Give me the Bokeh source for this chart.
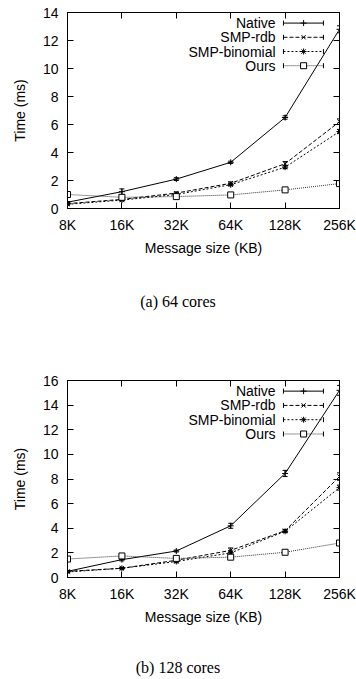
import math
from bokeh.plotting import figure
from bokeh.models import (Range1d, LinearAxis, FixedTicker, Whisker, ColumnDataSource,
                          TeeHead, Div, CustomLabelingPolicy)
from bokeh.layouts import column
from bokeh.embed import file_html
from bokeh.resources import INLINE
from bokeh.core.properties import value

sizes = ["8K", "16K", "32K", "64K", "128K", "256K"]
series_names = ["Native", "SMP-rdb", "SMP-binomial", "Ours"]

# (a) 64 cores, time in ms
native_64 = [0.45, 1.2, 2.1, 3.3, 6.5, 12.8]
rdb_64 = [0.35, 0.65, 1.1, 1.8, 3.2, 6.2]
binom_64 = [0.3, 0.6, 1.0, 1.7, 2.95, 5.5]
ours_64 = [1.0, 0.8, 0.85, 0.97, 1.33, 1.78]
native_64_err = [0.05, 0.2, 0.1, 0.08, 0.12, 0.25]
rdb_64_err = [0.05, 0.05, 0.08, 0.1, 0.15, 0.2]
binom_64_err = [0.05, 0.05, 0.05, 0.08, 0.1, 0.15]
ours_64_err = [0.05, 0.1, 0.05, 0.05, 0.08, 0.1]

# (b) 128 cores, time in ms
native_128 = [0.5, 1.45, 2.15, 4.2, 8.45, 15.2]
rdb_128 = [0.5, 0.75, 1.4, 2.2, 3.8, 8.2]
binom_128 = [0.45, 0.75, 1.3, 2.0, 3.75, 7.3]
ours_128 = [1.5, 1.75, 1.55, 1.65, 2.05, 2.8]
native_128_err = [0.05, 0.1, 0.08, 0.2, 0.25, 0.4]
rdb_128_err = [0.05, 0.05, 0.1, 0.2, 0.1, 0.3]
binom_128_err = [0.05, 0.05, 0.1, 0.15, 0.1, 0.2]
ours_128_err = [0.1, 0.1, 0.1, 0.1, 0.1, 0.1]

y_ticks_64 = [0, 2, 4, 6, 8, 10, 12, 14]
y_ticks_128 = [0, 2, 4, 6, 8, 10, 12, 14, 16]

FONT = "Liberation Sans"
STYLES = [
    dict(dash="solid", marker="cross", color="black"),
    dict(dash="4 2", marker="x", color="black"),
    dict(dash="2 2", marker="asterisk", color="black"),
    dict(dash="1 1", marker="square", color="#333333"),
]

NO_LABELS = "for (const i of Array.from(indices)) { indices.unset(i) }"


def make_plot(values, errors, yticks, frame_h, top):
    xs = list(range(len(sizes)))
    ymax = yticks[-1]
    xmax = len(sizes) - 1
    p = figure(frame_width=272, frame_height=frame_h, output_backend="svg",
               toolbar_location=None,
               x_range=Range1d(0, xmax), y_range=Range1d(0, ymax),
               min_border_left=67, min_border_right=17, min_border_top=top,
               min_border_bottom=52)
    p.grid.visible = False
    p.outline_line_color = "black"
    p.outline_line_width = 1
    p.background_fill_color = "white"
    p.border_fill_color = "white"

    p.xaxis.ticker = FixedTicker(ticks=xs)
    p.xaxis.major_label_overrides = {i: s for i, s in enumerate(sizes)}
    p.yaxis.ticker = FixedTicker(ticks=yticks)
    for ax in (p.xaxis[0], p.yaxis[0]):
        ax.major_tick_in = 6
        ax.major_tick_out = 0
        ax.minor_tick_line_color = None
        ax.major_label_text_font = FONT
        ax.major_label_text_font_size = "14px"
        ax.major_label_text_color = "black"
        ax.axis_label_text_font = FONT
        ax.axis_label_text_font_size = "14px"
        ax.axis_label_text_font_style = "normal"
        ax.axis_label_text_color = "black"
        ax.axis_line_color = "black"
    p.xaxis.axis_label = "Message size (KB)"
    p.yaxis.axis_label = "Time (ms)"
    p.xaxis.major_label_standoff = 8
    p.xaxis.axis_label_standoff = 4
    p.yaxis.major_label_standoff = 9
    p.yaxis.axis_label_standoff = 12

    # mirrored tick marks on right and top (no labels)
    ra = LinearAxis(ticker=FixedTicker(ticks=yticks), major_tick_in=6, major_tick_out=0,
                    minor_tick_line_color=None, axis_line_color="black",
                    major_label_standoff=0,
                    major_label_policy=CustomLabelingPolicy(code=NO_LABELS))
    ta = LinearAxis(ticker=FixedTicker(ticks=xs), major_tick_in=6, major_tick_out=0,
                    minor_tick_line_color=None, axis_line_color="black",
                    major_label_standoff=0,
                    major_label_policy=CustomLabelingPolicy(code=NO_LABELS))
    p.add_layout(ra, "right")
    p.add_layout(ta, "above")

    for name, vals, errs, st in zip(series_names, values, errors, STYLES):
        src = ColumnDataSource(dict(x=xs, y=vals,
                                    upper=[v + e for v, e in zip(vals, errs)],
                                    lower=[v - e for v, e in zip(vals, errs)]))
        p.line("x", "y", source=src, line_color=st["color"], line_width=1,
               line_dash=st["dash"])
        p.add_layout(Whisker(source=src, base="x", upper="upper", lower="lower",
                             line_color="black", line_width=1,
                             upper_head=TeeHead(size=5, line_color="black", line_width=1),
                             lower_head=TeeHead(size=5, line_color="black", line_width=1)))
        p.scatter("x", "y", source=src, marker=st["marker"], size=6,
                  line_color="black", fill_color="white", line_width=1)

    # gnuplot-style key: right-aligned text, sample to its right; placed by frame fractions
    rows_y = [ymax * (0.946 - 0.0725 * i) for i in range(len(series_names))]
    tx = xmax * 0.765
    sx0, sx1, mx = xmax * 0.794, xmax * 0.941, xmax * 0.868
    p.text(x=[tx] * len(series_names), y=rows_y, text=series_names,
           text_font=value(FONT), text_font_size="14px", text_align="right",
           text_baseline="middle", text_color="black")
    for yy, st in zip(rows_y, STYLES):
        p.segment(x0=[sx0], y0=[yy], x1=[sx1], y1=[yy], line_color=st["color"],
                  line_width=1, line_dash=st["dash"])
        p.scatter(x=[sx0, sx1], y=[yy, yy], marker="dash", angle=math.pi / 2, size=5,
                  line_color="black", line_width=1)
        p.scatter(x=[mx], y=[yy], marker=st["marker"], size=6, line_color="black",
                  fill_color="white", line_width=1)
    return p


def caption(text, height, pad):
    return Div(text=f'<div style="width:356px;text-align:center;margin-top:{pad}px;'
                    f'font-family:\'Liberation Serif\';font-size:16px;line-height:18px;'
                    f'color:black">{text}</div>',
               width=356, height=height, margin=0)


p1 = make_plot([native_64, rdb_64, binom_64, ours_64],
               [native_64_err, rdb_64_err, binom_64_err, ours_64_err],
               y_ticks_64, 196, 12)
c1 = caption("(a) 64 cores", 80, 33)
p2 = make_plot([native_128, rdb_128, binom_128, ours_128],
               [native_128_err, rdb_128_err, binom_128_err, ours_128_err],
               y_ticks_128, 197, 40)
c2 = caption("(b) 128 cores", 50, 30)

layout = column(p1, c1, p2, c2, spacing=0)
open("out.html", "w").write(file_html(layout, INLINE))
